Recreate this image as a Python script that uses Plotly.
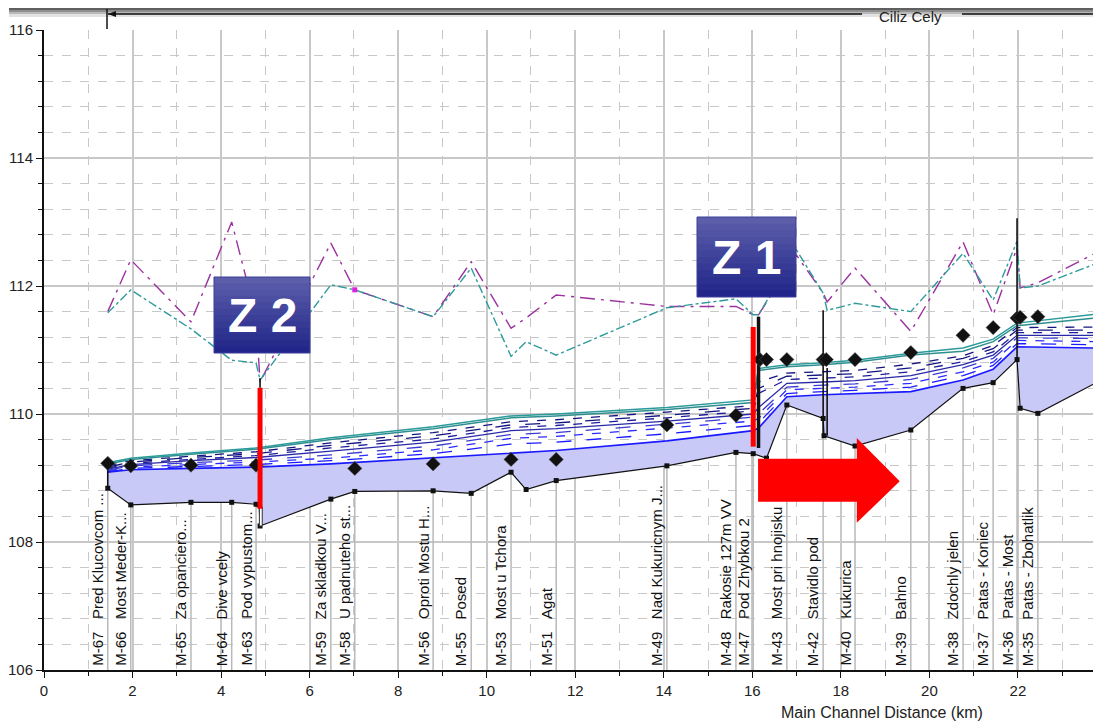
import plotly.graph_objects as go

# ---------------- data ----------------
station_km = [1.44, 1.96, 3.32, 4.24, 4.79, 6.48, 7.02, 8.79, 9.65, 10.55, 11.57, 14.07,
              15.63, 16.02, 16.78, 17.60, 18.32, 19.58, 20.76, 21.44, 21.98, 22.45]
station_ids = ["M-67", "M-66", "M-65", "M-64", "M-63", "M-59", "M-58", "M-56", "M-55", "M-53",
               "M-51", "M-49", "M-48", "M-47", "M-43", "M-42", "M-40", "M-39", "M-38", "M-37",
               "M-36", "M-35"]
station_names = ["Pred Klucovcom ...", "Most Meder-K...", "Za opanciero...", "Dive vcely",
                 "Pod vypustom...", "Za skladkou V...", "U padnuteho st...", "Oproti Mostu H...",
                 "Posed", "Most u Tchora", "Agat", "Nad Kukuricnym J...", "Rakosie 127m VV",
                 "Pod Zhybkou 2", "Most pri hnojisku", "Stavidlo pod", "Kukurica", "Bahno",
                 "Zdochly jelen", "Patas - Koniec", "Patas - Most", "Patas - Zbohatlik"]
station_ground = [108.84, 108.58, 108.62, 108.62, 108.59, 108.67, 108.79, 108.80, 108.76, 109.09,
                  108.96, 109.19, 109.40, 109.38, 110.14, 109.93, 109.50, 109.75, 110.40, 110.49,
                  110.85, 110.01]

ground_km = [1.44, 1.96, 3.32, 4.24, 4.79, 4.86, 4.88, 6.48, 7.02, 8.79, 9.65, 10.55, 10.89, 11.57,
             14.07, 15.63, 16.02, 16.32, 16.78, 17.60, 17.62, 18.32, 19.58, 20.76, 21.44, 21.98,
             22.05, 22.45, 23.88]
ground_el = [108.84, 108.58, 108.62, 108.62, 108.59, 108.58, 108.25, 108.67, 108.79, 108.80, 108.76,
             109.09, 108.82, 108.96, 109.19, 109.40, 109.38, 109.31, 110.14, 109.93, 109.66, 109.50,
             109.75, 110.40, 110.49, 110.85, 110.09, 110.01, 110.53]

ws_km = [1.44, 1.96, 3.32, 4.79, 6.48, 8.79, 10.55, 11.57, 14.07, 16.02, 16.14, 16.78, 17.60,
         18.32, 19.58, 20.76, 21.44, 21.98, 23.88]
ws_p1 = [109.09, 109.13, 109.15, 109.17, 109.22, 109.32, 109.39, 109.43, 109.58, 109.74, 109.78,
         110.27, 110.30, 110.32, 110.35, 110.53, 110.70, 111.05, 111.03]
ws_p2 = [109.10, 109.15, 109.18, 109.21, 109.27, 109.38, 109.53, 109.56, 109.69, 109.82, 109.86,
         110.32, 110.35, 110.37, 110.42, 110.60, 110.76, 111.10, 111.08]
ws_p3 = [109.11, 109.17, 109.21, 109.25, 109.31, 109.44, 109.62, 109.65, 109.78, 109.89, 109.93,
         110.38, 110.40, 110.42, 110.48, 110.66, 110.81, 111.15, 111.13]
ws_p4 = [109.12, 109.19, 109.24, 109.28, 109.36, 109.50, 109.68, 109.71, 109.84, 109.95, 110.00,
         110.42, 110.45, 110.47, 110.54, 110.72, 110.87, 111.19, 111.18]
ws_p5 = [109.14, 109.21, 109.27, 109.32, 109.42, 109.56, 109.74, 109.77, 109.89, 110.00, 110.10,
         110.48, 110.50, 110.52, 110.60, 110.77, 110.92, 111.23, 111.23]
ws_p6 = [109.15, 109.23, 109.29, 109.35, 109.47, 109.61, 109.79, 109.82, 109.94, 110.05, 110.32,
         110.54, 110.56, 110.58, 110.66, 110.82, 110.97, 111.27, 111.27]
ws_p7 = [109.17, 109.25, 109.32, 109.38, 109.51, 109.66, 109.83, 109.86, 109.98, 110.09, 110.40,
         110.59, 110.61, 110.63, 110.72, 110.87, 111.02, 111.31, 111.31]
ws_p8 = [109.19, 109.27, 109.34, 109.41, 109.55, 109.71, 109.88, 109.91, 110.03, 110.13, 110.50,
         110.64, 110.66, 110.68, 110.78, 110.91, 111.07, 111.35, 111.36]
ws_p9 = [109.22, 109.29, 109.37, 109.45, 109.60, 109.77, 109.94, 109.97, 110.07, 110.18, 110.68,
         110.74, 110.77, 110.81, 110.92, 110.98, 111.13, 111.38, 111.51]
ws_p10 = [109.24, 109.31, 109.39, 109.47, 109.63, 109.80, 109.97, 110.00, 110.10, 110.22, 110.71,
          110.77, 110.80, 110.84, 110.95, 111.03, 111.17, 111.42, 111.57]

bank_km = [1.44, 1.96, 3.32, 4.24, 4.79, 4.88, 6.48, 7.02, 8.79, 9.65, 10.55, 10.89, 11.57, 14.07,
           15.63, 16.02, 16.14, 17.00, 17.60, 17.69, 18.32, 19.58, 20.76, 21.44, 21.98, 22.05,
           22.45, 23.88]
left_bank = [111.60, 112.41, 111.44, 113.00, 111.52, 110.50, 112.67, 111.94, 111.52, 112.38, 111.34,
             111.50, 111.86, 111.68, 111.68, 111.55, 111.55, 112.48, 111.89, 111.75, 112.28, 111.29,
             112.69, 111.55, 112.60, 111.97, 112.05, 112.56]
right_bank = [111.58, 111.94, 111.33, 110.84, 110.80, 110.53, 112.02, 111.94, 111.52, 112.28, 110.90,
              111.13, 110.92, 111.66, 111.80, 111.55, 111.55, 112.56, 111.89, 111.62, 111.73, 111.60,
              112.51, 111.78, 112.70, 111.97, 112.00, 112.38]

obs_km = [1.44, 1.96, 3.32, 4.79, 7.02, 8.79, 10.55, 11.57, 14.07, 15.63, 16.17, 16.32, 16.78,
          17.60, 17.67, 18.32, 19.58, 20.76, 21.44, 21.98, 22.05, 22.45]
obs_el = [109.23, 109.19, 109.20, 109.20, 109.15, 109.22, 109.29, 109.29, 109.83, 109.98, 110.85,
          110.85, 110.85, 110.85, 110.85, 110.85, 110.96, 111.23, 111.35, 111.50, 111.51, 111.52]

# ---------------- figure geometry (screen pixels) ----------------
SW, SH = 1101, 723          # browser window
OFF = 8                     # default page body margin
PL, PR, PT, PB = 44, 1101, 30, 670   # plot area in screen pixels
PW, PH = PR - PL, PB - PT
XMAX = PW / 44.27


def px(x):
    return (x - PL) / PW


def py(y):
    return (PB - y) / PH


FONT = "Arial, Liberation Sans, sans-serif"
fig = go.Figure()

# station vertical lines
vx, vy = [], []
for k, g in zip(station_km, station_ground):
    vx += [k, k, None]
    vy += [g, 106, None]
fig.add_trace(go.Scatter(x=vx, y=vy, mode="lines", line=dict(color="#b9b9b9", width=1.5),
                         hoverinfo="skip"))

# water fill between lowest WS and ground
fx = ws_km + ground_km[::-1]
fy = ws_p1 + ground_el[::-1]
fig.add_trace(go.Scatter(x=fx, y=fy, mode="lines", fill="toself", fillcolor="#c9c9f8",
                         line=dict(width=0), hoverinfo="skip"))

styles = [
    (ws_p1, "#1a1aff", "solid", 1.6),
    (ws_p2, "#1a1aff", "longdash", 1.3),
    (ws_p3, "#2b2bff", "dash", 1.3),
    (ws_p4, "#3a3ad0", "longdash", 1.3),
    (ws_p5, "#2a2aa8", "solid", 1.3),
    (ws_p6, "#1c1c9c", "dash", 1.3),
    (ws_p7, "#141480", "longdash", 1.3),
    (ws_p8, "#141480", "dash", 1.3),
    (ws_p9, "#2f8f8f", "solid", 1.5),
    (ws_p10, "#2a9a9a", "solid", 1.5),
]
for vals, col, dash, wd in styles:
    fig.add_trace(go.Scatter(x=ws_km, y=vals, mode="lines",
                             line=dict(color=col, dash=dash, width=wd), hoverinfo="skip"))

# bank lines
fig.add_trace(go.Scatter(x=bank_km, y=left_bank, mode="lines",
                         line=dict(color="#9b30a0", dash="longdashdot", width=1.4)))
fig.add_trace(go.Scatter(x=bank_km, y=right_bank, mode="lines",
                         line=dict(color="#2f9a9a", dash="dashdot", width=1.4)))
fig.add_trace(go.Scatter(x=[7.02], y=[111.94], mode="markers",
                         marker=dict(symbol="square", size=5, color="#e020e0")))

# ground
fig.add_trace(go.Scatter(x=ground_km, y=ground_el, mode="lines+markers",
                         line=dict(color="#111", width=1.2),
                         marker=dict(symbol="square", size=5, color="#111")))

# structures (black verticals)
sx = [1.44, 1.44, None, 4.88, 4.88, None, 16.14, 16.14, None, 17.60, 17.60, None,
      17.69, 17.69, None, 21.98, 21.98]
sy = [108.84, 109.22, None, 110.41, 110.56, None, 109.47, 111.52, None, 109.66, 111.62, None,
      109.66, 110.72, None, 110.85, 113.06]
fig.add_trace(go.Scatter(x=sx, y=sy, mode="lines", line=dict(color="#111", width=1.6)))
fig.add_trace(go.Scatter(x=[16.14, 16.14], y=[109.47, 111.52], mode="lines",
                         line=dict(color="#111", width=3.5)))

# observed WS diamonds
fig.add_trace(go.Scatter(x=obs_km, y=obs_el, mode="markers",
                         marker=dict(symbol="diamond", size=11, color="#111",
                                     line=dict(color="#555", width=0.5))))

shapes = []
shapes.append(dict(type="rect", xref="x", yref="y", x0=4.865, x1=4.93, y0=108.25, y1=108.55,
                   line=dict(color="#333", width=1), fillcolor="white"))
shapes.append(dict(type="line", xref="x", yref="y", x0=4.88, x1=4.88, y0=108.52, y1=110.41,
                   line=dict(color="#ff0000", width=5)))
shapes.append(dict(type="line", xref="x", yref="y", x0=16.02, x1=16.02, y0=109.49, y1=111.36,
                   line=dict(color="#ff0000", width=5)))
shapes.append(dict(type="path", xref="x", yref="y",
                   path="M 16.13 109.30 L 18.36 109.30 L 18.36 109.625 L 19.33 108.95 "
                        "L 18.36 108.30 L 18.36 108.63 L 16.13 108.63 Z",
                   fillcolor="#ff0000", line=dict(width=0)))


def zbox(x0, x1, y0, y1):
    n = 12
    c_top = (92, 94, 170)
    c_bot = (34, 38, 138)
    for i in range(n):
        t = i / (n - 1)
        c = tuple(int(c_top[j] + (c_bot[j] - c_top[j]) * t) for j in range(3))
        ya = y0 + (y1 - y0) * i / n
        yb = y0 + (y1 - y0) * (i + 1) / n
        shapes.append(dict(type="rect", xref="paper", yref="paper", x0=px(x0), x1=px(x1),
                           y0=py(ya), y1=py(min(yb + 0.6, y1)), line=dict(width=0),
                           fillcolor="rgb(%d,%d,%d)" % c))
    shapes.append(dict(type="rect", xref="paper", yref="paper", x0=px(x0), x1=px(x1),
                       y0=py(y0), y1=py(y1), line=dict(color="#3c3f9a", width=1)))


zbox(214, 310, 277, 353)
zbox(697, 796, 217, 297)

# header shadow and river bar
for (y0, y1, col) in [(8, 10, "#5f5f5f"), (10, 12, "#8e8e8e"), (12, 14, "#b9b9b9"),
                      (14, 17, "#e2e2e2")]:
    shapes.append(dict(type="rect", xref="paper", yref="paper", x0=px(9), x1=px(SW),
                       y0=py(y0), y1=py(y1), line=dict(width=0), fillcolor=col))
shapes.append(dict(type="line", xref="paper", yref="paper", x0=px(108), x1=px(862),
                   y0=py(14), y1=py(14), line=dict(color="#111", width=1.5)))
shapes.append(dict(type="line", xref="paper", yref="paper", x0=px(962), x1=px(SW),
                   y0=py(14), y1=py(14), line=dict(color="#111", width=1.5)))
shapes.append(dict(type="line", xref="paper", yref="paper", x0=px(107), x1=px(107),
                   y0=py(9), y1=py(29), line=dict(color="#111", width=1.5)))
shapes.append(dict(type="path", xref="paper", yref="paper",
                   path="M %f %f L %f %f L %f %f Z" % (px(108), py(14), px(116), py(11),
                                                       px(116), py(17)),
                   fillcolor="#111", line=dict(width=0)))

annotations = []
for k, sid, name in zip(station_km, station_ids, station_names):
    annotations.append(dict(x=k, y=106, xref="x", yref="y", text=sid + "\u00a0\u00a0\u00a0" + name,
                            textangle=-90, xanchor="right", yanchor="bottom", showarrow=False,
                            xshift=0, yshift=2, font=dict(family=FONT, size=15, color="#111")))

annotations.append(dict(x=px(262), y=py(315), xref="paper", yref="paper", text="<b>Z 2</b>",
                        showarrow=False, xanchor="center", yanchor="middle",
                        font=dict(family="Liberation Sans Narrow, Arial Narrow, Arial",
                                  size=48, color="white")))
annotations.append(dict(x=px(746), y=py(257), xref="paper", yref="paper", text="<b>Z 1</b>",
                        showarrow=False, xanchor="center", yanchor="middle",
                        font=dict(family="Liberation Sans Narrow, Arial Narrow, Arial",
                                  size=48, color="white")))
annotations.append(dict(x=px(910), y=py(16.5), xref="paper", yref="paper", text="Ciliz Cely",
                        showarrow=False, xanchor="center", yanchor="middle",
                        font=dict(family=FONT, size=15, color="#222")))
annotations.append(dict(x=px(882), y=py(712), xref="paper", yref="paper",
                        text="Main Channel Distance (km)", showarrow=False, xanchor="center",
                        yanchor="middle", font=dict(family=FONT, size=16, color="#222")))

fig.update_layout(
    width=SW - OFF, height=SH - OFF,
    margin=dict(l=PL - OFF, r=0, t=PT - OFF, b=SH - PB),
    paper_bgcolor="white", plot_bgcolor="white", showlegend=False,
    shapes=shapes, annotations=annotations,
    xaxis=dict(range=[0, XMAX], tick0=0, dtick=2, showgrid=True, gridcolor="#c8c8c8",
               gridwidth=1.5, zeroline=False, showline=True, linecolor="#111", linewidth=1.5,
               ticks="outside", ticklen=6, tickcolor="#111",
               tickfont=dict(family=FONT, size=15, color="#222"),
               minor=dict(dtick=1, tick0=0, showgrid=True, griddash="dash", gridcolor="#c8c8c8",
                          gridwidth=1, ticks="outside", ticklen=4, tickcolor="#111")),
    yaxis=dict(range=[106, 116], tick0=106, dtick=2, showgrid=True, gridcolor="#c8c8c8",
               gridwidth=1.5, zeroline=False, showline=True, linecolor="#111", linewidth=2,
               ticks="outside", ticklen=6, tickcolor="#111",
               tickfont=dict(family=FONT, size=15, color="#222"),
               minor=dict(dtick=0.4, tick0=106, showgrid=True, griddash="dash",
                          gridcolor="#c8c8c8", gridwidth=1, ticks="outside", ticklen=4,
                          tickcolor="#111")),
)

fig.write_html("out.html")
